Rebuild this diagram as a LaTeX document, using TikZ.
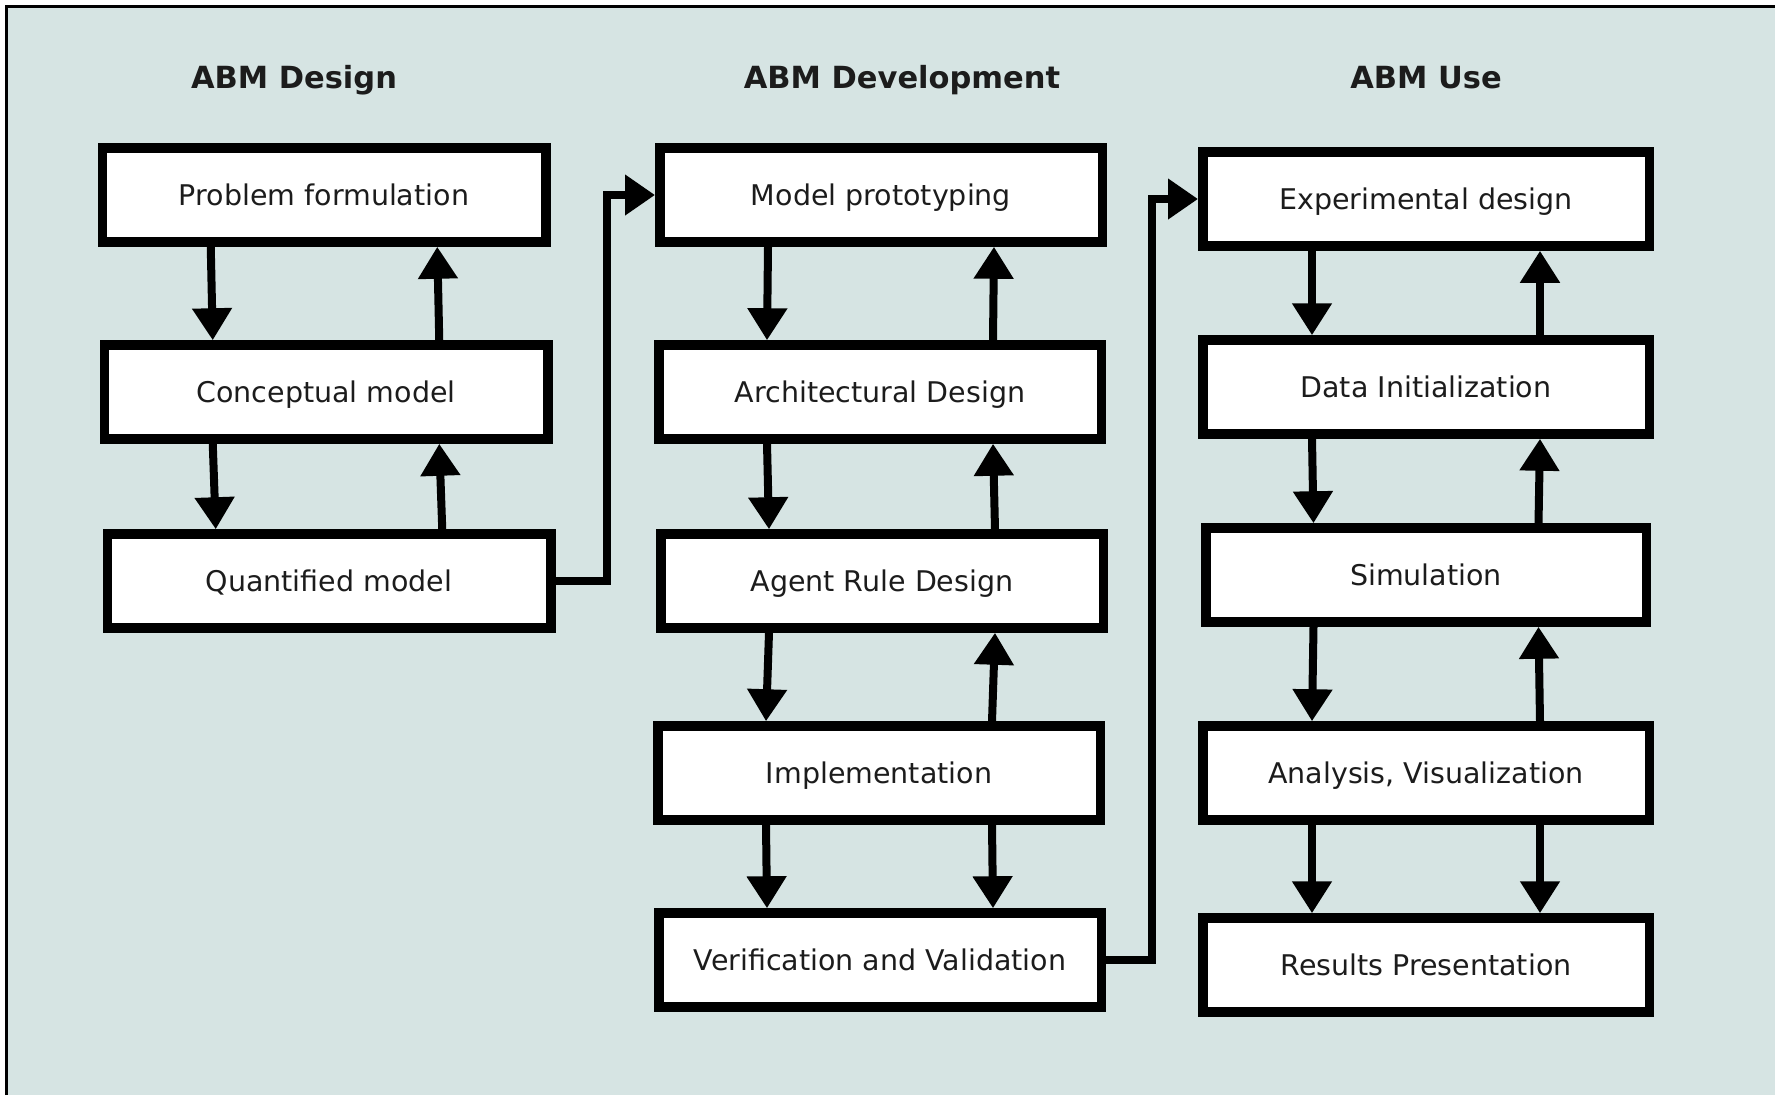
\documentclass[tikz,border=0pt]{standalone}
\usepackage{fontspec}
\setmainfont{DejaVu Sans}
\usetikzlibrary{arrows.meta,calc}
\definecolor{bgc}{RGB}{214,228,227}
\definecolor{txt}{RGB}{28,28,28}
\tikzset{
  box/.style={draw=black, fill=white, line width=9.5pt, inner sep=0pt,
    minimum height=94pt, text height=20.8pt, text depth=0pt,
    font=\fontsize{28.5}{34}\selectfont, text=txt},
  colA/.style={box, minimum width=443.5pt},
  colB/.style={box, minimum width=442.5pt},
  colC/.style={box, minimum width=446.5pt},
  ttl/.style={anchor=base, font=\bfseries\fontsize{30.5}{36}\selectfont, text=txt},
  arr/.style={line width=8pt, -{Triangle[width=38pt,length=32pt]}},
  conn/.style={line width=8pt, -{Triangle[width=39pt,length=30pt]}}
}
\begin{document}
\begin{tikzpicture}[x=1pt,y=-1pt]
\useasboundingbox (0,0) rectangle (1775,1095);
\fill[white] (0,0) rectangle (1775,1095);
\fill[bgc] (6.5,6.5) rectangle (1775,1095);
\draw[line width=2.5pt] (6.5,1095) -- (6.5,6.5) -- (1775,6.5);

\node[ttl] (t1) at (294,88) {ABM Design};
\node[ttl] (t2) at (902,88) {ABM Development};
\node[ttl] (t3) at (1426,88) {ABM Use};

\node[colA] (pf) at (324,195) {Problem formulation};
\node[colA] (cm) at (326,392) {Conceptual model};
\node[colA] (qm) at (329,581) {Quantified model};

\node[colB] (mp) at (881,195) {Model prototyping};
\node[colB] (ad) at (880,392) {Architectural Design};
\node[colB] (ar) at (882,581) {Agent Rule Design};
\node[colB] (im) at (879,773) {Implementation};
\node[colB] (vv) at (880,960) {Verification and Validation};

\node[colC] (ed) at (1426,199) {Experimental design};
\node[colC] (di) at (1426,387) {Data Initialization};
\node[colC, minimum width=440.5pt] (si) at (1426,575) {Simulation};
\node[colC] (av) at (1426,773) {Analysis, Visualization};
\node[colC] (rp) at (1426,965) {Results Presentation};

% down (left quarter) and up (right quarter) arrows
\foreach \a/\b in {pf/cm, cm/qm, mp/ad, ad/ar, ar/im, im/vv, ed/di, di/si, si/av, av/rp}{
  \draw[arr] ($(\a.south west)!0.25!(\a.south east)$) -- ($(\b.north west)!0.25!(\b.north east)$);
}
\foreach \a/\b in {cm/pf, qm/cm, ad/mp, ar/ad, im/ar, di/ed, si/di, av/si}{
  \draw[arr] ($(\a.north west)!0.75!(\a.north east)$) -- ($(\b.south west)!0.75!(\b.south east)$);
}
\foreach \a/\b in {im/vv, av/rp}{
  \draw[arr] ($(\a.south west)!0.75!(\a.south east)$) -- ($(\b.north west)!0.75!(\b.north east)$);
}

% elbow connectors between columns
\coordinate (j1) at (607,0);
\coordinate (j2) at (1152,0);
\draw[conn] (qm.east) -| (j1 |- mp.west) -- (mp.west);
\draw[conn] (vv.east) -| (j2 |- ed.west) -- (ed.west);
\end{tikzpicture}
\end{document}
